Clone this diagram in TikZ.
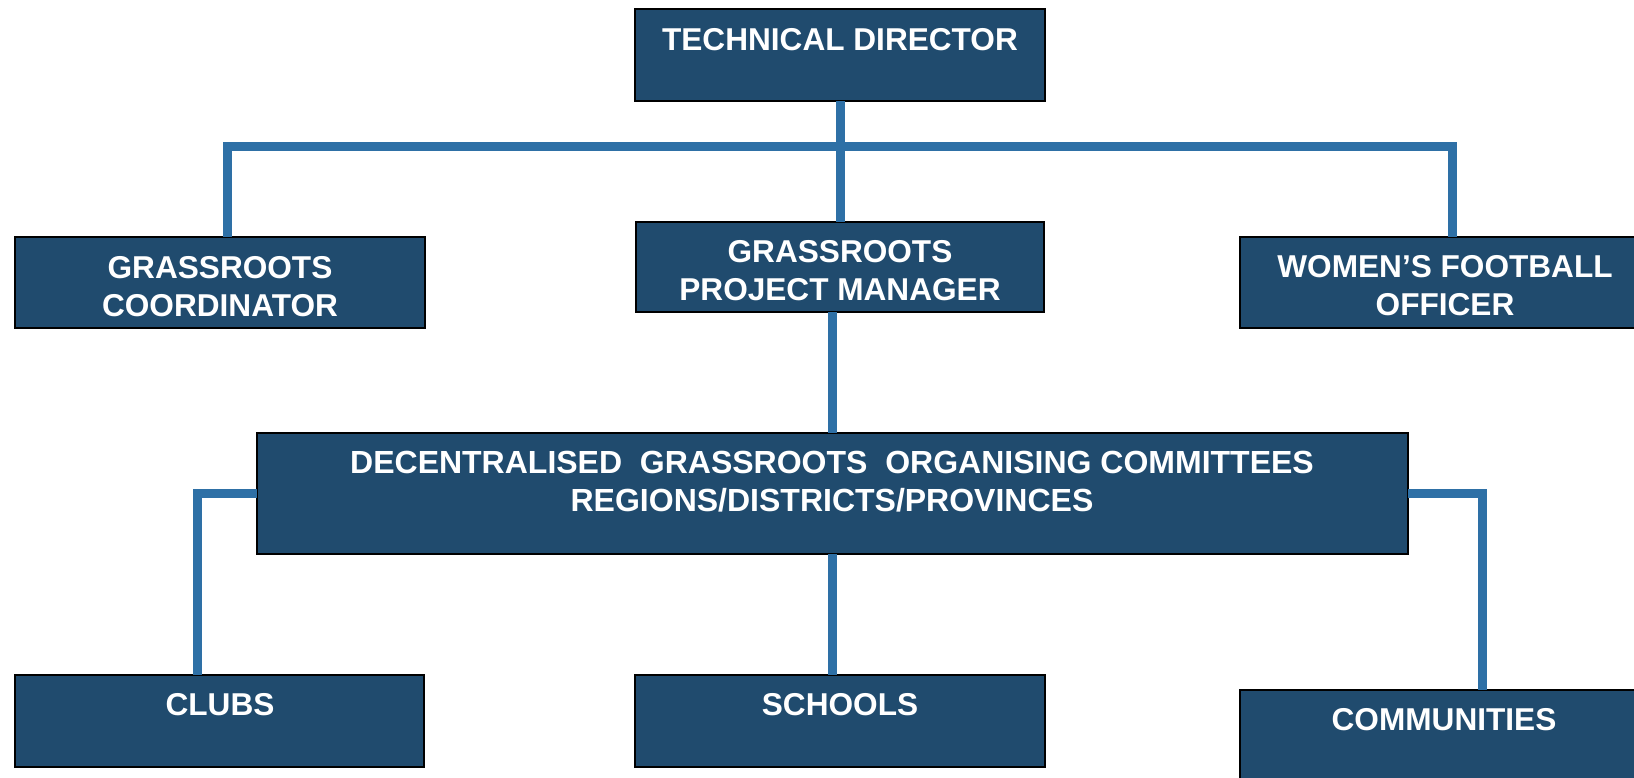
\documentclass[tikz,border=0pt]{standalone}
\usepackage{fontspec}
\setmainfont{Liberation Sans}
\definecolor{boxfill}{RGB}{32,75,110}
\definecolor{linkblue}{RGB}{46,112,166}
\begin{document}
\begin{tikzpicture}[x=1pt,y=-1pt,
  orgbox/.style={draw=black, line width=1.5pt, fill=boxfill, rectangle, inner sep=0pt, outer sep=0pt},
  lbl/.style={text=white, font=\fontsize{31.6}{38}\selectfont\bfseries, align=center, inner sep=0pt},
  link/.style={draw=linkblue, line width=9pt, line join=miter}]
\useasboundingbox (0,0) rectangle (1634,777);
\clip (0,0) rectangle (1634,777);
\fill[white] (0,0) rectangle (1634,777);
% boxes
\node[orgbox, minimum width=410pt, minimum height=92pt] (td) at (840,55) {};
\node[orgbox, minimum width=410pt, minimum height=91pt] (coord) at (220,282.5) {};
\node[orgbox, minimum width=408pt, minimum height=90pt] (gpm) at (840,267) {};
\node[orgbox, minimum width=420pt, minimum height=91pt] (women) at (1450,282.5) {};
\node[orgbox, minimum width=1151pt, minimum height=121pt] (dgoc) at (832.5,493.5) {};
\node[orgbox, minimum width=409pt, minimum height=92pt] (clubs) at (219.5,721) {};
\node[orgbox, minimum width=410pt, minimum height=92pt] (schools) at (840,721) {};
\node[orgbox, minimum width=420pt, minimum height=110pt] (comm) at (1450,745) {};
% labels
\node[lbl] (ttd) at (840,40) {TECHNICAL DIRECTOR};
\node[lbl] (tcoord) at (220,287) {GRASSROOTS\\COORDINATOR};
\node[lbl] (tgpm) at (840,270.5) {GRASSROOTS\\PROJECT MANAGER};
\node[lbl] (twomen) at (1445,286) {WOMEN’S FOOTBALL\\OFFICER};
\node[lbl, font=\fontsize{32}{38.5}\selectfont\bfseries] (tdgoc) at (832,481.5) {DECENTRALISED\ \ GRASSROOTS\ \ ORGANISING COMMITTEES\\REGIONS/DISTRICTS/PROVINCES};
\node[lbl] (tclubs) at (220,705) {CLUBS};
\node[lbl] (tschools) at (840,705) {SCHOOLS};
\node[lbl] (tcomm) at (1444,720) {COMMUNITIES};
% connectors
\coordinate (bar) at (840,146);
\draw[link] (td.south) -- (gpm.north);
\draw[link] ([xshift=7pt]coord.north) |- (bar) -| ([xshift=2pt]women.north);
\draw[link] (gpm.south -| dgoc.north) -- (dgoc.north);
\draw[link] (dgoc.south) -- (dgoc.south |- schools.north);
\draw[link] (dgoc.west) -| ([xshift=-22.5pt]clubs.north);
\draw[link] (dgoc.east) -| ([xshift=32pt]comm.north);
\end{tikzpicture}
\end{document}
